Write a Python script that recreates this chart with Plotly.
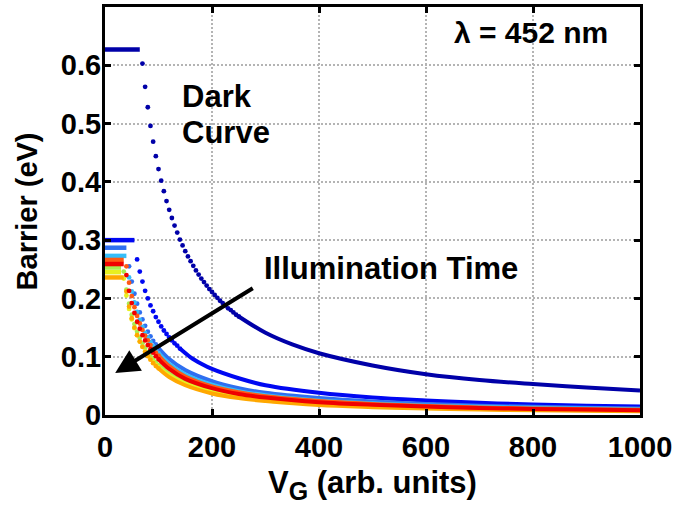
import plotly.graph_objects as go

# ---------------- data ----------------
# Barrier height (eV) versus gate voltage V_G (arb. units), sampled every 5 units.
# Each curve: a flat plateau near V_G = 0, a steep region drawn as discrete dots,
# and a slowly decaying tail drawn as a continuous line.

# Dark curve
dark_plateau = 0.627
dark_plateau_end = 65
dark_dot_vg = list(range(70, 255, 5))
dark_dot_barrier = [0.603, 0.563, 0.528, 0.496, 0.469, 0.444, 0.422, 0.402, 0.384, 0.367,
                    0.352, 0.338, 0.325, 0.313, 0.301, 0.291, 0.281, 0.272, 0.264, 0.256,
                    0.248, 0.241, 0.234, 0.228, 0.222, 0.216, 0.211, 0.206, 0.201, 0.196,
                    0.192, 0.188, 0.183, 0.180, 0.176, 0.172, 0.169]
dark_tail_vg = [250, 300, 350, 400, 500, 600, 700, 800, 900, 1000]
dark_tail_barrier = [0.169, 0.141, 0.121, 0.106, 0.085, 0.070, 0.060, 0.053, 0.047, 0.042]

# First illumination step (blue)
blue_plateau = 0.300
blue_plateau_end = 55
blue_dot_vg = list(range(60, 145, 5))
blue_dot_barrier = [0.267, 0.246, 0.229, 0.213, 0.200, 0.188, 0.178, 0.168, 0.160, 0.152,
                    0.145, 0.139, 0.133, 0.128, 0.123, 0.119, 0.114]
blue_tail_vg = [140, 160, 180, 200, 250, 300, 400, 500, 600, 700, 800, 900, 1000]
blue_tail_barrier = [0.114, 0.099, 0.088, 0.079, 0.063, 0.051, 0.038, 0.030, 0.025, 0.021,
                     0.018, 0.016, 0.0145]

# Longer illumination times share the same V_G grid for their tails
tail_vg = [100, 120, 150, 200, 250, 300, 400, 500, 600, 700, 800, 900, 1000]

lightblue_plateau = 0.287
lightblue_plateau_end = 40
lightblue_dot_vg = list(range(45, 105, 5))
lightblue_dot_barrier = [0.255, 0.229, 0.208, 0.191, 0.176, 0.164, 0.153, 0.143, 0.135,
                         0.127, 0.121, 0.115]
lightblue_tail_barrier = [0.115, 0.096, 0.077, 0.058, 0.046, 0.038, 0.029, 0.023, 0.019,
                          0.016, 0.014, 0.0125, 0.0113]

cyan_plateau = 0.273
cyan_plateau_end = 40
cyan_dot_vg = list(range(45, 105, 5))
cyan_dot_barrier = [0.236, 0.212, 0.193, 0.177, 0.163, 0.151, 0.141, 0.133, 0.125, 0.118,
                    0.112, 0.106]
cyan_tail_barrier = [0.106, 0.088, 0.070, 0.052, 0.041, 0.034, 0.025, 0.020, 0.0165, 0.014,
                     0.0123, 0.011, 0.0098]

yellowgreen_plateau = 0.253
yellowgreen_plateau_end = 30
yellowgreen_dot_vg = list(range(35, 105, 5))
yellowgreen_dot_barrier = [0.246, 0.215, 0.191, 0.172, 0.156, 0.143, 0.132, 0.123, 0.115,
                           0.108, 0.101, 0.096, 0.091, 0.086]
yellowgreen_tail_barrier = [0.086, 0.071, 0.056, 0.041, 0.032, 0.027, 0.020, 0.0155, 0.0128,
                            0.011, 0.0095, 0.0085, 0.0076]

yellow_plateau = 0.245
yellow_plateau_end = 30
yellow_dot_vg = list(range(35, 105, 5))
yellow_dot_barrier = [0.234, 0.205, 0.182, 0.164, 0.149, 0.137, 0.126, 0.117, 0.109, 0.103,
                      0.096, 0.091, 0.086, 0.082]
yellow_tail_barrier = [0.082, 0.068, 0.054, 0.039, 0.031, 0.025, 0.019, 0.0148, 0.0122,
                       0.0104, 0.009, 0.008, 0.0072]

orange_plateau = 0.236
orange_plateau_end = 35
orange_dot_vg = list(range(40, 105, 5))
orange_dot_barrier = [0.212, 0.186, 0.166, 0.150, 0.137, 0.126, 0.117, 0.108, 0.101, 0.095,
                      0.089, 0.084, 0.080]
orange_tail_barrier = [0.080, 0.065, 0.051, 0.037, 0.029, 0.024, 0.017, 0.0135, 0.011,
                       0.0094, 0.008, 0.0072, 0.0064]

orangered_plateau = 0.266
orangered_plateau_end = 35
orangered_dot_vg = list(range(40, 105, 5))
orangered_dot_barrier = [0.255, 0.227, 0.204, 0.185, 0.170, 0.157, 0.146, 0.136, 0.128,
                         0.120, 0.113, 0.107, 0.102]
orangered_tail_barrier = [0.102, 0.084, 0.066, 0.049, 0.039, 0.032, 0.024, 0.019, 0.0155,
                          0.013, 0.0113, 0.010, 0.0090]

red_plateau = 0.259
red_plateau_end = 35
red_dot_vg = list(range(40, 105, 5))
red_dot_barrier = [0.240, 0.213, 0.192, 0.175, 0.160, 0.148, 0.137, 0.128, 0.120, 0.113,
                   0.107, 0.101, 0.096]
red_tail_barrier = [0.096, 0.079, 0.062, 0.046, 0.036, 0.030, 0.022, 0.0175, 0.0145, 0.012,
                    0.0105, 0.0093, 0.0083]

x_ticks = [0, 200, 400, 600, 800, 1000]
y_ticks = [0, 0.1, 0.2, 0.3, 0.4, 0.5, 0.6]

# (colour, plateau value, plateau end, dot V_G, dot barrier, tail V_G, tail barrier)
curves = [
    ("#0000A8", dark_plateau, dark_plateau_end, dark_dot_vg, dark_dot_barrier,
     dark_tail_vg, dark_tail_barrier),
    ("#0008F2", blue_plateau, blue_plateau_end, blue_dot_vg, blue_dot_barrier,
     blue_tail_vg, blue_tail_barrier),
    ("#2F6FF0", lightblue_plateau, lightblue_plateau_end, lightblue_dot_vg,
     lightblue_dot_barrier, tail_vg, lightblue_tail_barrier),
    ("#36BEF8", cyan_plateau, cyan_plateau_end, cyan_dot_vg, cyan_dot_barrier,
     tail_vg, cyan_tail_barrier),
    ("#A8EC50", yellowgreen_plateau, yellowgreen_plateau_end, yellowgreen_dot_vg,
     yellowgreen_dot_barrier, tail_vg, yellowgreen_tail_barrier),
    ("#E8F020", yellow_plateau, yellow_plateau_end, yellow_dot_vg, yellow_dot_barrier,
     tail_vg, yellow_tail_barrier),
    ("#FFA800", orange_plateau, orange_plateau_end, orange_dot_vg, orange_dot_barrier,
     tail_vg, orange_tail_barrier),
    ("#FF5A14", orangered_plateau, orangered_plateau_end, orangered_dot_vg,
     orangered_dot_barrier, tail_vg, orangered_tail_barrier),
    ("#F00000", red_plateau, red_plateau_end, red_dot_vg, red_dot_barrier,
     tail_vg, red_tail_barrier),
]

# ---------------- figure ----------------
FONT = "Liberation Sans"
fig = go.Figure()

for color, plat, plat_end, dvg, dbar, tvg, tbar in curves:
    # plateau
    fig.add_trace(go.Scatter(x=[0, plat_end], y=[plat, plat], mode="lines",
                             line=dict(color=color, width=4.5), hoverinfo="skip"))
    # tail
    fig.add_trace(go.Scatter(x=tvg, y=tbar, mode="lines",
                             line=dict(color=color, width=4, shape="spline"),
                             hoverinfo="skip"))
    # steep region as dots
    fig.add_trace(go.Scatter(x=dvg, y=dbar, mode="markers",
                             marker=dict(color=color, size=4.8, line=dict(width=0))))

axis_common = dict(
    showline=True, linewidth=3, linecolor="black", mirror="allticks",
    ticks="inside", ticklen=6, tickwidth=3, tickcolor="black",
    showgrid=True, gridcolor="#b4b4b4", gridwidth=2, griddash="2px,2px",
    zeroline=False,
    tickfont=dict(family=FONT, size=29, color="black", weight="bold"),
)

fig.update_xaxes(range=[0, 1000], tickvals=x_ticks, ticktext=[str(v) for v in x_ticks],
                 ticklabelstandoff=4, **axis_common)
fig.update_yaxes(range=[0, 0.7], tickvals=y_ticks, ticktext=[f"{v:g}" for v in y_ticks],
                 ticklabelstandoff=-5, **axis_common)

label_font = dict(family=FONT, size=31, color="black", weight="bold")
annotations = [
    dict(x=141, y=0.547, xref="x", yref="y", text="Dark", showarrow=False,
         xanchor="left", yanchor="middle", font=label_font),
    dict(x=141, y=0.484, xref="x", yref="y", text="Curve", showarrow=False,
         xanchor="left", yanchor="middle", font=label_font),
    dict(x=294, y=0.251, xref="x", yref="y", text="Illumination Time", showarrow=False,
         xanchor="left", yanchor="middle", font=label_font),
    dict(x=648, y=0.657, xref="x", yref="y", text="λ = 452 nm", showarrow=False,
         xanchor="left", yanchor="middle", font=dict(label_font, size=30)),
    # arrow pointing towards longer illumination
    dict(x=19, y=0.072, xref="x", yref="y", ax=279, ay=0.219, axref="x", ayref="y",
         text="", showarrow=True, arrowhead=2, arrowsize=1.2, arrowwidth=4,
         arrowcolor="black"),
    # axis titles
    dict(x=0.5, y=-0.172, xref="paper", yref="paper",
         text="V<sub><span style=\"font-size:25px\">G</span></sub> (arb. units)",
         showarrow=False, xanchor="center", yanchor="middle",
         font=dict(label_font, size=31)),
    dict(x=-0.145, y=0.5, xref="paper", yref="paper", text="Barrier (eV)", textangle=-90,
         showarrow=False, xanchor="center", yanchor="middle",
         font=dict(label_font, size=29)),
]

fig.update_layout(
    width=676, height=506,
    margin=dict(l=105, r=36, t=4, b=91),
    paper_bgcolor="white", plot_bgcolor="white",
    showlegend=False,
    annotations=annotations,
)

fig.write_html("out.html")
